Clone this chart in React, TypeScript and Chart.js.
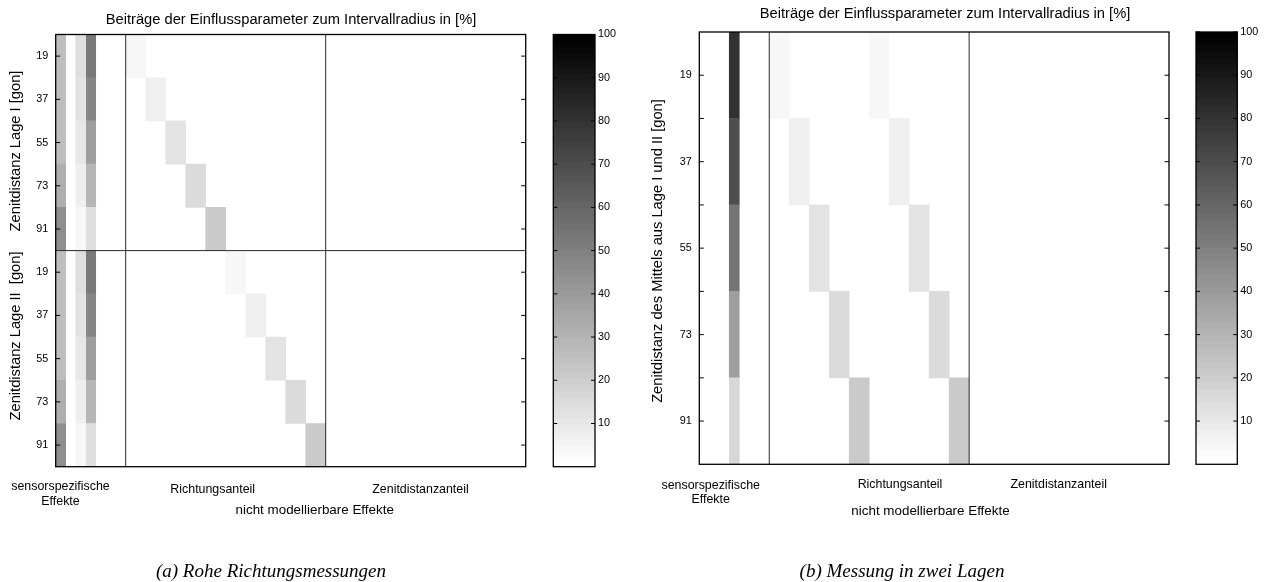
import { useEffect, useRef } from 'react';
import { Chart, registerables } from 'chart.js';

Chart.register(...registerables);

const SANS = '"Liberation Sans", Arial, Helvetica, sans-serif';
const SERIF = '"Liberation Serif", "Times New Roman", serif';
const PAGE_H = 582;

// Zenith distance classes [gon]
const zenithLabels = ['19', '37', '55', '73', '91'];
// (a): face I rows followed by face II rows
const rowLabelsA = [...zenithLabels, ...zenithLabels];
// (b): mean of both faces
const rowLabelsB = zenithLabels;

// Contributions to the interval radius [%], sensor-specific effects (7 narrow columns)
const sensorA = [
  [26, 0, 13, 52, 0, 0, 0],
  [26, 0, 12, 48, 0, 0, 0],
  [26, 0, 10, 38, 0, 0, 0],
  [32, 0, 7, 29, 0, 0, 0],
  [44, 0, 4, 13, 0, 0, 0],
  [26, 0, 13, 52, 0, 0, 0],
  [26, 0, 12, 48, 0, 0, 0],
  [26, 0, 10, 38, 0, 0, 0],
  [32, 0, 7, 29, 0, 0, 0],
  [44, 0, 4, 13, 0, 0, 0],
];
// non-modellable effects, direction component (10 columns)
const directionA = [
  [4, 0, 0, 0, 0, 0, 0, 0, 0, 0],
  [0, 7, 0, 0, 0, 0, 0, 0, 0, 0],
  [0, 0, 12, 0, 0, 0, 0, 0, 0, 0],
  [0, 0, 0, 15, 0, 0, 0, 0, 0, 0],
  [0, 0, 0, 0, 21, 0, 0, 0, 0, 0],
  [0, 0, 0, 0, 0, 4, 0, 0, 0, 0],
  [0, 0, 0, 0, 0, 0, 7, 0, 0, 0],
  [0, 0, 0, 0, 0, 0, 0, 12, 0, 0],
  [0, 0, 0, 0, 0, 0, 0, 0, 15, 0],
  [0, 0, 0, 0, 0, 0, 0, 0, 0, 21],
];
// non-modellable effects, zenith distance component (10 columns)
const zenithPartA = [
  [0, 0, 0, 0, 0, 0, 0, 0, 0, 0],
  [0, 0, 0, 0, 0, 0, 0, 0, 0, 0],
  [0, 0, 0, 0, 0, 0, 0, 0, 0, 0],
  [0, 0, 0, 0, 0, 0, 0, 0, 0, 0],
  [0, 0, 0, 0, 0, 0, 0, 0, 0, 0],
  [0, 0, 0, 0, 0, 0, 0, 0, 0, 0],
  [0, 0, 0, 0, 0, 0, 0, 0, 0, 0],
  [0, 0, 0, 0, 0, 0, 0, 0, 0, 0],
  [0, 0, 0, 0, 0, 0, 0, 0, 0, 0],
  [0, 0, 0, 0, 0, 0, 0, 0, 0, 0],
];

const sensorB = [
  [0, 0, 0, 80, 0, 0, 0],
  [0, 0, 0, 70, 0, 0, 0],
  [0, 0, 0, 54, 0, 0, 0],
  [0, 0, 0, 38, 0, 0, 0],
  [0, 0, 0, 16, 0, 0, 0],
];
const directionB = [
  [4, 0, 0, 0, 0, 4, 0, 0, 0, 0],
  [0, 7, 0, 0, 0, 0, 7, 0, 0, 0],
  [0, 0, 12, 0, 0, 0, 0, 12, 0, 0],
  [0, 0, 0, 15, 0, 0, 0, 0, 15, 0],
  [0, 0, 0, 0, 21, 0, 0, 0, 0, 21],
];
const zenithPartB = [
  [0, 0, 0, 0, 0, 0, 0, 0, 0, 0],
  [0, 0, 0, 0, 0, 0, 0, 0, 0, 0],
  [0, 0, 0, 0, 0, 0, 0, 0, 0, 0],
  [0, 0, 0, 0, 0, 0, 0, 0, 0, 0],
  [0, 0, 0, 0, 0, 0, 0, 0, 0, 0],
];

// Colour bar
const colorTicks = [10, 20, 30, 40, 50, 60, 70, 80, 90, 100];
const colorMin = 0;
const colorMax = 100;
const colorLevels = 64;

function grayIndex(v: number) {
  const t = (v - colorMin) / (colorMax - colorMin);
  return Math.min(colorLevels - 1, Math.max(0, Math.floor(t * colorLevels)));
}
function grayOfIndex(k: number) {
  const g = Math.round(((colorLevels - 1 - k) / (colorLevels - 1)) * 255);
  return `rgb(${g},${g},${g})`;
}
function grayOf(v: number) {
  return grayOfIndex(grayIndex(v));
}

type Section = { matrix: number[][]; start: number; width: number };
type Label = {
  text: string;
  x: number;
  y: number;
  size: number;
  serif?: boolean;
  italic?: boolean;
  rotate?: boolean;
};
type Area = { left: number; right: number; top: number; bottom: number };

function cellDatasets(sections: Section[]) {
  const sets: any[] = [];
  sections.forEach((sec) => {
    const nCols = sec.matrix[0].length;
    for (let c = 0; c < nCols; c++) {
      const x0 = sec.start + c * sec.width;
      const x1 = x0 + sec.width;
      sets.push({
        data: sec.matrix.map((row) => (row[c] > 0 ? [x0, x1] : null)),
        backgroundColor: sec.matrix.map((row) => grayOf(row[c])),
        borderWidth: 0,
        grouped: false,
        barPercentage: 1,
        categoryPercentage: 1,
      });
    }
  });
  return sets;
}

function drawLabels(ctx: CanvasRenderingContext2D, labels: Label[], offsetX: number) {
  ctx.save();
  ctx.fillStyle = '#000';
  ctx.textAlign = 'center';
  ctx.textBaseline = 'middle';
  labels.forEach((l) => {
    ctx.font = `${l.italic ? 'italic ' : ''}${l.size}px ${l.serif ? SERIF : SANS}`;
    if (l.rotate) {
      ctx.save();
      ctx.translate(l.x - offsetX, l.y);
      ctx.rotate(-Math.PI / 2);
      ctx.fillText(l.text, 0, 0);
      ctx.restore();
    } else {
      ctx.fillText(l.text, l.x - offsetX, l.y);
    }
  });
  ctx.restore();
}

function inwardTicks(ctx: CanvasRenderingContext2D, a: any, ys: number[], len: number) {
  ctx.beginPath();
  ys.forEach((py) => {
    ctx.moveTo(a.left, py);
    ctx.lineTo(a.left + len, py);
    ctx.moveTo(a.right, py);
    ctx.lineTo(a.right - len, py);
  });
  ctx.stroke();
}

type HeatProps = {
  left: number;
  width: number;
  area: Area;
  rowLabels: string[];
  sections: Section[];
  xMax: number;
  splitX: number[];
  splitY: number[];
  halfTicks: boolean;
  labels: Label[];
};

function Heatmap(p: HeatProps) {
  const ref = useRef<HTMLCanvasElement | null>(null);
  useEffect(() => {
    if (!ref.current) return;
    const frame = {
      id: 'heatFrame',
      afterDatasetsDraw(chart: any) {
        const { ctx, chartArea: a } = chart;
        const x = chart.scales.x;
        const y = chart.scales.y;
        ctx.save();
        ctx.strokeStyle = '#2b2b2b';
        ctx.lineWidth = 1;
        ctx.beginPath();
        p.splitX.forEach((v) => {
          const px = x.getPixelForValue(v);
          ctx.moveTo(px, a.top);
          ctx.lineTo(px, a.bottom);
        });
        p.splitY.forEach((v) => {
          const py = y.getPixelForValue(v);
          ctx.moveTo(a.left, py);
          ctx.lineTo(a.right, py);
        });
        ctx.stroke();
        ctx.strokeStyle = '#000';
        const ys: number[] = [];
        p.rowLabels.forEach((_, i) => ys.push(y.getPixelForValue(i)));
        if (p.halfTicks) {
          for (let i = 0; i < p.rowLabels.length - 1; i++) ys.push(y.getPixelForValue(i + 0.5));
        }
        inwardTicks(ctx, a, ys, 4.5);
        ctx.lineWidth = 1.3;
        ctx.strokeRect(a.left, a.top, a.right - a.left, a.bottom - a.top);
        ctx.restore();
      },
      afterDraw(chart: any) {
        drawLabels(chart.ctx, p.labels, p.left);
      },
    };
    const chart = new Chart(ref.current, {
      type: 'bar',
      data: { labels: p.rowLabels, datasets: cellDatasets(p.sections) },
      options: {
        responsive: false,
        animation: false,
        indexAxis: 'y',
        layout: {
          padding: {
            left: 0,
            top: p.area.top,
            right: p.left + p.width - p.area.right,
            bottom: PAGE_H - p.area.bottom,
          },
        },
        plugins: { legend: { display: false }, tooltip: { enabled: false }, title: { display: false } },
        scales: {
          x: { type: 'linear', min: 0, max: p.xMax, display: false },
          y: {
            type: 'category',
            position: 'left',
            offset: true,
            grid: { display: false, drawTicks: false },
            border: { display: false },
            ticks: { color: '#000', font: { family: SANS, size: 10.8 }, padding: 7.5, autoSkip: false },
            afterFit: (s: any) => {
              s.width = p.area.left - p.left;
            },
          },
        },
      } as any,
      plugins: [frame],
    });
    return () => chart.destroy();
  }, []);
  return (
    <canvas
      ref={ref}
      width={p.width}
      height={PAGE_H}
      style={{ position: 'absolute', left: p.left, top: 0, width: p.width, height: PAGE_H }}
    />
  );
}

type BarProps = { left: number; width: number; area: Area };

function ColorBar(p: BarProps) {
  const ref = useRef<HTMLCanvasElement | null>(null);
  useEffect(() => {
    if (!ref.current) return;
    const bands: any[] = [];
    for (let k = 0; k < colorLevels; k++) {
      const lo = colorMin + ((colorMax - colorMin) * k) / colorLevels;
      const hi = colorMin + ((colorMax - colorMin) * (k + 1)) / colorLevels;
      bands.push({
        data: [[lo, hi]],
        backgroundColor: grayOfIndex(k),
        borderWidth: 0,
        inflateAmount: 1,
        grouped: false,
        barPercentage: 1,
        categoryPercentage: 1,
      });
    }
    const frame = {
      id: 'barFrame',
      afterDatasetsDraw(chart: any) {
        const { ctx, chartArea: a } = chart;
        const y = chart.scales.y;
        ctx.save();
        // clear any band overflow outside the bar
        ctx.fillStyle = '#fff';
        ctx.fillRect(a.left - 2, a.top - 3, a.right - a.left + 4, 3);
        ctx.fillRect(a.left - 2, a.bottom, a.right - a.left + 4, 3);
        ctx.strokeStyle = '#000';
        ctx.lineWidth = 1;
        inwardTicks(ctx, a, colorTicks.map((v) => y.getPixelForValue(v)), 4);
        ctx.lineWidth = 1.3;
        ctx.strokeRect(a.left, a.top, a.right - a.left, a.bottom - a.top);
        ctx.restore();
      },
    };
    const chart = new Chart(ref.current, {
      type: 'bar',
      data: { labels: [''], datasets: bands },
      options: {
        responsive: false,
        animation: false,
        layout: {
          padding: { left: p.area.left - p.left, top: p.area.top, right: 0, bottom: PAGE_H - p.area.bottom },
        },
        plugins: { legend: { display: false }, tooltip: { enabled: false } },
        scales: {
          x: { display: false },
          y: {
            type: 'linear',
            position: 'right',
            min: colorMin,
            max: colorMax,
            afterBuildTicks: (s: any) => {
              s.ticks = colorTicks.map((v) => ({ value: v }));
            },
            grid: { display: false, drawTicks: false },
            border: { display: false },
            ticks: { color: '#000', font: { family: SANS, size: 10.8 }, padding: 3, autoSkip: false },
            afterFit: (s: any) => {
              s.width = p.left + p.width - p.area.right;
            },
          },
        },
      } as any,
      plugins: [frame],
    });
    return () => chart.destroy();
  }, []);
  return (
    <canvas
      ref={ref}
      width={p.width}
      height={PAGE_H}
      style={{ position: 'absolute', left: p.left, top: 0, width: p.width, height: PAGE_H }}
    />
  );
}

const TITLE = 'Beiträge der Einflussparameter zum Intervallradius in [%]';

const labelsA: Label[] = [
  { text: TITLE, x: 291, y: 20, size: 14.7 },
  { text: 'Zenitdistanz Lage I [gon]', x: 16, y: 151, size: 14.7, rotate: true },
  { text: 'Zenitdistanz Lage II  [gon]', x: 16, y: 336, size: 14.7, rotate: true },
  { text: 'sensorspezifische', x: 60.5, y: 487, size: 12.4 },
  { text: 'Effekte', x: 60.5, y: 502, size: 12.4 },
  { text: 'Richtungsanteil', x: 212.7, y: 489.5, size: 12.4 },
  { text: 'Zenitdistanzanteil', x: 420.5, y: 489.5, size: 12.4 },
  { text: 'nicht modellierbare Effekte', x: 314.7, y: 510, size: 13.4 },
  { text: '(a) Rohe Richtungsmessungen', x: 271, y: 572, size: 19, serif: true, italic: true },
];

const labelsB: Label[] = [
  { text: TITLE, x: 945, y: 14, size: 14.7 },
  { text: 'Zenitdistanz des Mittels aus Lage I und II [gon]', x: 658, y: 251, size: 14.7, rotate: true },
  { text: 'sensorspezifische', x: 710.7, y: 486, size: 12.4 },
  { text: 'Effekte', x: 710.7, y: 500, size: 12.4 },
  { text: 'Richtungsanteil', x: 900, y: 484.5, size: 12.4 },
  { text: 'Zenitdistanzanteil', x: 1058.7, y: 484.5, size: 12.4 },
  { text: 'nicht modellierbare Effekte', x: 930.5, y: 511.5, size: 13.4 },
  { text: '(b) Messung in zwei Lagen', x: 902, y: 572, size: 19, serif: true, italic: true },
];

const sectionsA: Section[] = [
  { matrix: sensorA, start: 0, width: 1 },
  { matrix: directionA, start: 7, width: 2 },
  { matrix: zenithPartA, start: 27, width: 2 },
];
const sectionsB: Section[] = [
  { matrix: sensorB, start: 0, width: 1 },
  { matrix: directionB, start: 7, width: 2 },
  { matrix: zenithPartB, start: 27, width: 2 },
];

export default function App() {
  return (
    <div
      style={{
        position: 'absolute',
        left: 0,
        top: 0,
        width: 1270,
        height: PAGE_H,
        background: '#fff',
        overflow: 'hidden',
      }}
    >
      <Heatmap
        left={0}
        width={545}
        area={{ left: 55.7, right: 525.7, top: 34.5, bottom: 466.7 }}
        rowLabels={rowLabelsA}
        sections={sectionsA}
        xMax={47}
        splitX={[7, 27]}
        splitY={[4.5]}
        halfTicks={false}
        labels={labelsA}
      />
      <ColorBar left={545} width={95} area={{ left: 553.3, right: 595, top: 34.5, bottom: 466.7 }} />
      <Heatmap
        left={640}
        width={548}
        area={{ left: 699.3, right: 1169, top: 32, bottom: 464.3 }}
        rowLabels={rowLabelsB}
        sections={sectionsB}
        xMax={47}
        splitX={[7, 27]}
        splitY={[]}
        halfTicks={true}
        labels={labelsB}
      />
      <ColorBar left={1188} width={82} area={{ left: 1196, right: 1237.3, top: 32, bottom: 464.3 }} />
    </div>
  );
}
